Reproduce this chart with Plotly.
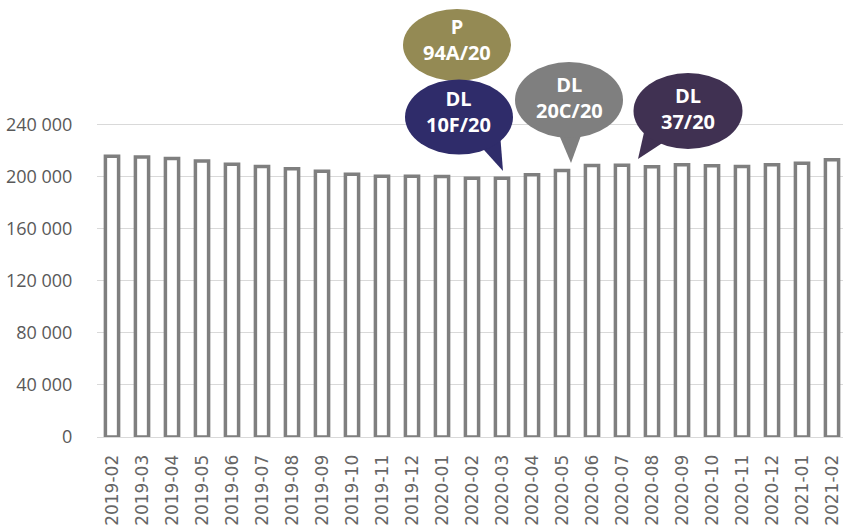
import plotly.graph_objects as go

months = ["2019-02", "2019-03", "2019-04", "2019-05", "2019-06", "2019-07", "2019-08",
          "2019-09", "2019-10", "2019-11", "2019-12", "2020-01", "2020-02", "2020-03",
          "2020-04", "2020-05", "2020-06", "2020-07", "2020-08", "2020-09", "2020-10",
          "2020-11", "2020-12", "2021-01", "2021-02"]
values = [215800, 215200, 214200, 212200, 209800, 208000, 206300, 204400, 202100, 200500,
          200500, 200300, 199000, 199000, 201600, 204900, 208800, 209000, 207800, 209300,
          208500, 208000, 209300, 210500, 213100]
y_ticks = [0, 40000, 80000, 120000, 160000, 200000, 240000]
y_tick_text = ["0", "40 000", "80 000", "120 000", "160 000", "200 000", "240 000"]

# callouts: (line1, line2, color)
callouts = [
    ("P", "94A/20", "#948a54"),
    ("DL", "10F/20", "#2f2c6a"),
    ("DL", "20C/20", "#7f7f7f"),
    ("DL", "37/20", "#403152"),
]

W, H = 843, 526
L, T, B = 97, 0, 89
PW = W - L
PH = H - T - B


def px(x):
    return (x - L) / PW


def py(y):
    return (T + PH - y) / PH


fig = go.Figure()
fig.add_trace(go.Bar(
    x=months, y=values, width=0.44,
    marker=dict(color="white", line=dict(color="#7f7f7f", width=3.5)),
    hoverinfo="skip",
))

# bubble geometry in pixels: center, radii, tail (3 points or None), text center y, text x
geom = [
    ((457, 45), (54, 36), None, 39.5, 457),
    ((459, 117), (54, 37.5), [(475, 140), (503, 171), (500, 133)], 111.5, 458),
    ((569, 100), (54, 38), [(557, 130), (571, 163), (583, 130)], 97.5, 569),
    ((688, 111), (54.5, 38), [(645, 128), (638, 159), (667, 140)], 109, 688),
]

shapes = []
annotations = []
for (t1, t2, col), (c, r, tail, ty, tx) in zip(callouts, geom):
    if tail:
        path = "M {} {} L {} {} L {} {} Z".format(
            px(tail[0][0]), py(tail[0][1]), px(tail[1][0]), py(tail[1][1]),
            px(tail[2][0]), py(tail[2][1]))
        shapes.append(dict(type="path", xref="paper", yref="paper", path=path,
                           fillcolor=col, line=dict(width=0), layer="above"))
    shapes.append(dict(type="circle", xref="paper", yref="paper",
                       x0=px(c[0] - r[0]), x1=px(c[0] + r[0]),
                       y0=py(c[1] + r[1]), y1=py(c[1] - r[1]),
                       fillcolor=col, line=dict(width=0), layer="above"))
    annotations.append(dict(text="<b>%s<br>%s</b>" % (t1, t2), xref="paper", yref="paper",
                            x=px(tx), y=py(ty), xanchor="center", yanchor="middle",
                            align="center", showarrow=False,
                            font=dict(family="Open Sans", size=20, color="white")))

fig.update_layout(
    width=W, height=H,
    margin=dict(l=L, r=0, t=T, b=B, pad=0, autoexpand=False),
    plot_bgcolor="white", paper_bgcolor="white",
    showlegend=False,
    bargap=0.5,
    shapes=shapes,
    annotations=annotations,
    xaxis=dict(
        type="category", range=[-0.5, -0.5 + PW / 30.0], automargin=False,
        tickangle=-90, ticks="outside", ticklen=10, tickcolor="rgba(0,0,0,0)",
        tickfont=dict(family="DejaVu Sans", size=17, color="#666666"),
        showgrid=False, showline=False, zeroline=False,
    ),
    yaxis=dict(
        range=[0, 336000], tickvals=y_ticks, ticktext=y_tick_text, automargin=False,
        ticks="outside", ticklen=20, tickcolor="rgba(0,0,0,0)",
        tickfont=dict(family="Open Sans", size=18, color="#595959"),
        showgrid=True, gridcolor="#d9d9d9", gridwidth=1,
        zeroline=True, zerolinecolor="#d9d9d9", zerolinewidth=1,
        showline=False,
    ),
)

fig.write_html("out.html", config={"displayModeBar": False},
               post_script="document.body.style.margin='0';")
